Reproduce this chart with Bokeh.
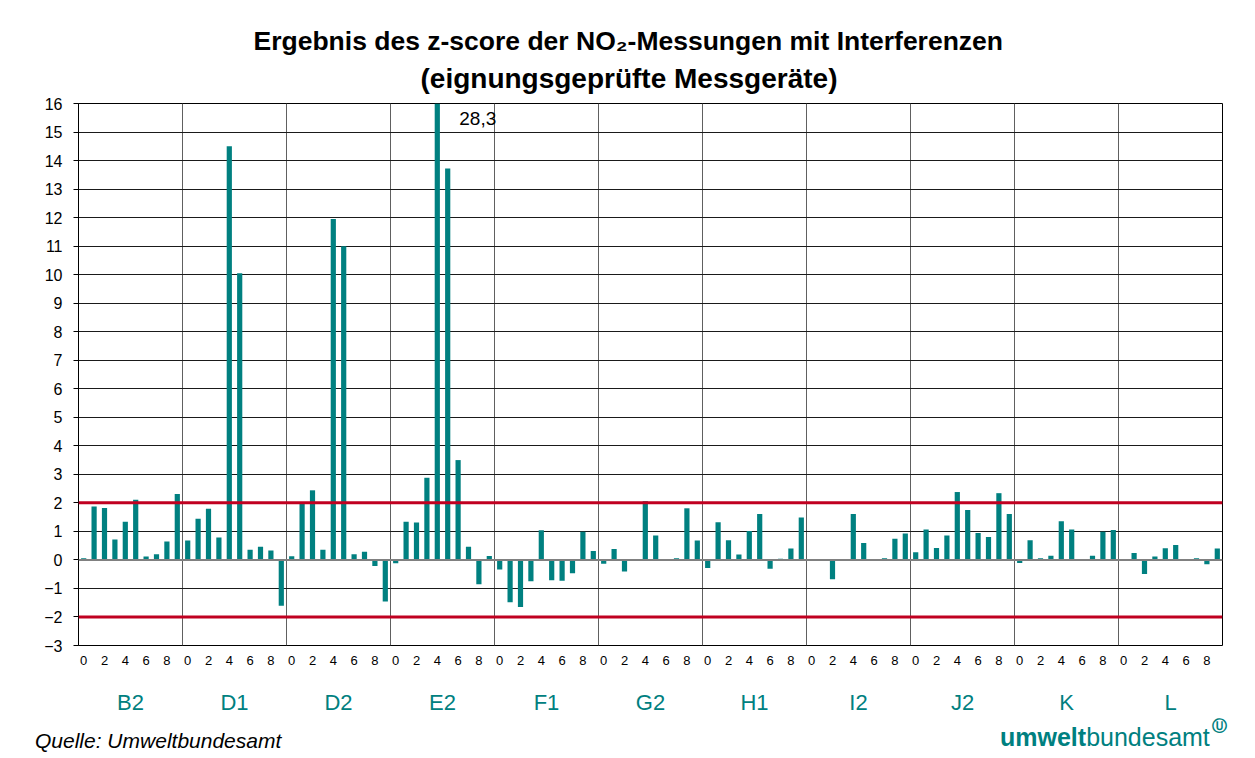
from bokeh.plotting import figure
from bokeh.models import (Range1d, FixedTicker, LinearAxis, Span, Label, Title, ColumnDataSource, Div)
from bokeh.layouts import column
from bokeh.embed import file_html
from bokeh.resources import INLINE

# ---------------- data ----------------
groups = ["B2", "D1", "D2", "E2", "F1", "G2", "H1", "I2", "J2", "K", "L"]
sub_labels = ["0", "2", "4", "6", "8"]

B2 = [0.06, 1.87, 1.82, 0.72, 1.34, 2.11, 0.12, 0.20, 0.65, 2.31]
D1 = [0.68, 1.44, 1.79, 0.79, 14.5, 10.05, 0.36, 0.46, 0.33, -1.61]
D2 = [0.13, 1.96, 2.44, 0.36, 11.95, 11.0, 0.20, 0.29, -0.21, -1.46]
E2 = [-0.12, 1.34, 1.31, 2.88, 28.3, 13.72, 3.5, 0.46, -0.85, 0.14]
F1 = [-0.34, -1.48, -1.65, -0.75, 1.04, -0.71, -0.73, -0.47, 0.99, 0.31]
G2 = [-0.13, 0.38, -0.41, -0.02, 2.06, 0.86, -0.02, 0.06, 1.81, 0.68]
H1 = [-0.28, 1.32, 0.69, 0.19, 1.01, 1.61, -0.31, 0.04, 0.40, 1.49]
I2 = [0.01, -0.02, -0.68, -0.02, 1.61, 0.59, -0.02, 0.06, 0.74, 0.93]
J2 = [0.27, 1.07, 0.42, 0.86, 2.38, 1.75, 0.94, 0.80, 2.34, 1.61]
K = [-0.11, 0.69, 0.06, 0.15, 1.36, 1.07, -0.03, 0.15, 0.99, 1.05]
L = [0.0, 0.24, -0.49, 0.12, 0.41, 0.52, -0.03, 0.06, -0.15, 0.40]

series = [B2, D1, D2, E2, F1, G2, H1, I2, J2, K, L]
limits = [2, -2]
y_min, y_max = -3, 16
outlier_label = "28,3"
title_1 = "Ergebnis des z-score der NO\u2082-Messungen mit Interferenzen"
title_2 = "(eignungsgeprüfte Messgeräte)"
source_text = "Quelle: Umweltbundesamt"
logo_bold, logo_rest, logo_mark = "umwelt", "bundesamt", "\u24ca"

n_sub = 10
xs, tops = [], []
for gi, vals in enumerate(series):
    for k, v in enumerate(vals):
        xs.append(gi * n_sub + k)
        tops.append(v)
src = ColumnDataSource(dict(x=xs, top=tops))

FONT = "Liberation Sans"
TEAL = "#008080"
W = 1255
H_MAIN = 718
H_FOOT = 40
FRAME_L = 78

p = figure(width=W, height=H_MAIN,
           x_range=Range1d(-0.5, len(groups) * n_sub - 0.5),
           y_range=Range1d(y_min, y_max),
           output_backend="svg", toolbar_location=None,
           min_border_left=FRAME_L, min_border_right=33,
           min_border_top=103, min_border_bottom=H_MAIN - 645)
p.title.visible = False
p.outline_line_color = "black"
p.outline_line_width = 1
p.background_fill_color = "white"
p.border_fill_color = "white"

# titles (closest to the frame first)
p.add_layout(Title(text=title_2, align="left", text_font=FONT, text_font_size="28px",
                   text_font_style="bold", text_color="black", standoff=20,
                   offset=420 - FRAME_L), "above")
p.add_layout(Title(text=title_1, align="left", text_font=FONT, text_font_size="26.5px",
                   text_font_style="bold", text_color="black", standoff=-10,
                   offset=253 - FRAME_L), "above")

# grids
p.ygrid.ticker = FixedTicker(ticks=list(range(y_min, y_max + 1)))
p.ygrid.grid_line_color = "#1a1a1a"
p.ygrid.grid_line_width = 1
p.xgrid.ticker = FixedTicker(ticks=[g * n_sub - 0.5 for g in range(1, len(groups))])
p.xgrid.grid_line_color = "#606060"
p.xgrid.grid_line_width = 1

# y axis
p.yaxis.ticker = FixedTicker(ticks=list(range(y_min, y_max + 1)))
p.yaxis.major_tick_out = 5
p.yaxis.major_tick_in = 0
p.yaxis.minor_tick_line_color = None
p.yaxis.axis_line_color = "black"
p.yaxis.major_label_text_font = FONT
p.yaxis.major_label_text_font_size = "16px"
p.yaxis.major_label_text_color = "black"
p.yaxis.major_label_standoff = 11

# x axis (sub indices)
xt, xo = [], {}
for gi in range(len(groups)):
    for s in sub_labels:
        pos = gi * n_sub + int(s)
        xt.append(pos)
        xo[pos] = s
p.xaxis.ticker = FixedTicker(ticks=xt)
p.xaxis.major_label_overrides = xo
p.xaxis.axis_line_color = None
p.xaxis.major_tick_line_color = None
p.xaxis.minor_tick_line_color = None
p.xaxis.major_label_text_font = FONT
p.xaxis.major_label_text_font_size = "13px"
p.xaxis.major_label_text_color = "black"
p.xaxis.major_label_standoff = 4

# group axis
gt = [gi * n_sub + (n_sub - 1) / 2 for gi in range(len(groups))]
gax = LinearAxis(ticker=FixedTicker(ticks=gt),
                 major_label_overrides={t: g for t, g in zip(gt, groups)})
gax.axis_line_color = None
gax.major_tick_line_color = None
gax.minor_tick_line_color = None
gax.major_label_text_font = FONT
gax.major_label_text_font_size = "22px"
gax.major_label_text_color = TEAL
gax.major_label_standoff = 16
p.add_layout(gax, "below")

# bars
p.vbar(x="x", top="top", bottom=0, width=0.5, source=src,
       fill_color=TEAL, line_color=None)

# zero line and limits
p.add_layout(Span(location=0, dimension="width", line_color="#808080", line_width=2))
for lim in limits:
    p.add_layout(Span(location=lim, dimension="width", line_color="#C00020", line_width=3))

# outlier label
imax = max(range(len(tops)), key=lambda i: tops[i])
p.add_layout(Label(x=xs[imax], y=y_max, x_offset=22, y_offset=-15, text=outlier_label,
                   text_font=FONT, text_font_size="19px", text_color="black",
                   text_align="left", text_baseline="middle"))

# footer
footer_html = (
    f'<div style="position:relative;width:{W}px;height:{H_FOOT}px;'
    f"font-family:'{FONT}',Arial,sans-serif;line-height:1;\">"
    f'<span style="position:absolute;left:30px;top:7px;font-size:21px;font-style:italic;'
    f'color:black;white-space:nowrap;">{source_text}</span>'
    f'<span style="position:absolute;left:995px;top:2px;font-size:25px;color:{TEAL};'
    f'white-space:nowrap;"><b>{logo_bold}</b>{logo_rest}</span>'
    f'<span style="position:absolute;left:1207px;top:-4px;font-size:15px;font-weight:bold;'
    f"font-family:'DejaVu Sans';color:{TEAL};white-space:nowrap;\">{logo_mark}</span>"
    f'</div>'
)
footer = Div(text=footer_html, width=W, height=H_FOOT)

layout = column(p, footer, spacing=0)
open("out.html", "w").write(file_html(layout, INLINE))
